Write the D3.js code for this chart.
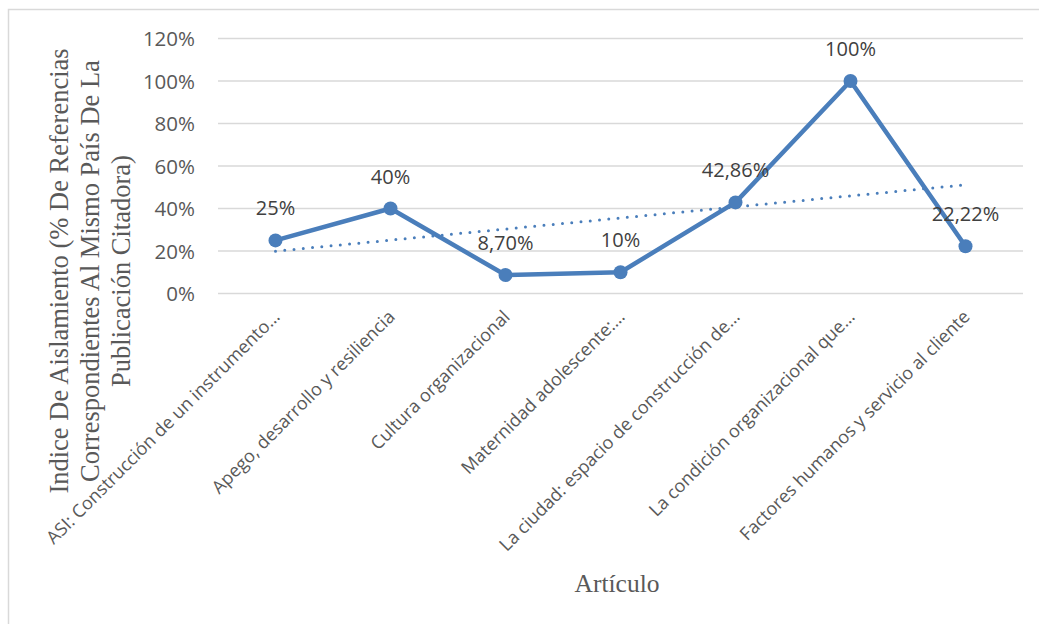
<!DOCTYPE html>
<html>
<head>
<meta charset="utf-8">
<script src="https://cdn.jsdelivr.net/npm/d3@7"></script>
<style>
  body { margin: 0; background: #fff; }
  svg { display: block; }
</style>
</head>
<body>
<div id="chart"></div>
<script>
const categories = [
    "ASI: Construcción de un instrumento…",
    "Apego, desarrollo y resiliencia",
    "Cultura organizacional",
    "Maternidad adolescente:…",
    "La ciudad: espacio de construcción de…",
    "La condición organizacional que…",
    "Factores humanos y servicio al cliente"
]
const values = [25, 40, 8.7, 10, 42.86, 100, 22.22]
const valueLabels = ["25%", "40%", "8,70%", "10%", "42,86%", "100%", "22,22%"]
const yTicks = [0, 20, 40, 60, 80, 100, 120]
const yTitleLines = [
    "Indice De Aislamiento (% De Referencias",
    "Correspondientes Al Mismo País De La",
    "Publicación Citadora)"
]
const xTitle = "Artículo"

const width = 1039, height = 624
const plot = { left: 218, right: 1023, top: 38.5, bottom: 293.5 }
const blue = "#4a7ebb"
const sans = "'Open Sans', sans-serif"
const serif = "'Liberation Serif', 'Times New Roman', serif"

const svg = d3.select("#chart").append("svg")
    .attr("width", width)
    .attr("height", height)

// chart border (runs off the right and bottom edge)
svg.append("rect")
    .attr("x", 8.5).attr("y", 9.5)
    .attr("width", 1100).attr("height", 700)
    .attr("fill", "none")
    .attr("stroke", "#d9d9d9")
    .attr("stroke-width", 1.5)

const x = d3.scaleBand()
    .domain(categories)
    .range([plot.left, plot.right])

const y = d3.scaleLinear()
    .domain([0, 120])
    .range([plot.bottom, plot.top])

// gridlines
svg.append("g")
    .selectAll("line")
    .data(yTicks)
    .enter()
    .append("line")
    .attr("x1", plot.left).attr("x2", plot.right)
    .attr("y1", d => y(d)).attr("y2", d => y(d))
    .attr("stroke", "#d9d9d9")
    .attr("stroke-width", 1.5)

// y axis tick labels
const yAxis = svg.append("g")
    .attr("transform", "translate(" + (plot.left - 20) + ",0)")
    .call(d3.axisLeft(y).tickValues(yTicks).tickSize(0).tickFormat(d => d + "%"))
yAxis.select(".domain").remove()
yAxis.selectAll("text")
    .style("font-family", sans)
    .style("font-size", "20.5px")
    .attr("fill", "#595959")
    .attr("dy", "0.35em")

// x axis tick labels, rotated
const xAxis = svg.append("g")
    .attr("transform", "translate(0," + plot.bottom + ")")
    .call(d3.axisBottom(x).tickSize(0))
xAxis.select(".domain").remove()
xAxis.selectAll("text")
    .style("font-family", sans)
    .style("font-size", "18px")
    .attr("fill", "#595959")
    .attr("text-anchor", "end")
    .attr("dy", "0.35em")
    .attr("transform", "translate(1,20) rotate(-45)")
    .attr("y", 0)

// trendline (linear least squares on the series)
const idx = values.map((v, i) => i + 1)
const mx = d3.mean(idx), my = d3.mean(values)
const slope = d3.sum(idx.map((xi, i) => (xi - mx) * (values[i] - my))) / d3.sum(idx.map(xi => (xi - mx) ** 2))
const intercept = my - slope * mx
const cx = d => x(d) + x.bandwidth() / 2

svg.append("line")
    .attr("x1", cx(categories[0]))
    .attr("y1", y(intercept + slope * 1))
    .attr("x2", cx(categories[categories.length - 1]))
    .attr("y2", y(intercept + slope * categories.length))
    .attr("stroke", blue)
    .attr("stroke-width", 3)
    .attr("stroke-linecap", "round")
    .attr("stroke-dasharray", "0 9.3")

// series line
const line = d3.line()
    .x((d, i) => cx(categories[i]))
    .y(d => y(d))

svg.append("path")
    .datum(values)
    .attr("d", line)
    .attr("fill", "none")
    .attr("stroke", blue)
    .attr("stroke-width", 4.5)
    .attr("stroke-linejoin", "round")

svg.append("g")
    .selectAll("circle")
    .data(values)
    .enter()
    .append("circle")
    .attr("cx", (d, i) => cx(categories[i]))
    .attr("cy", d => y(d))
    .attr("r", 7)
    .attr("fill", blue)

// data labels
svg.append("g")
    .selectAll("text")
    .data(values)
    .enter()
    .append("text")
    .attr("x", (d, i) => cx(categories[i]))
    .attr("y", d => y(d) - 25)
    .attr("text-anchor", "middle")
    .style("font-family", sans)
    .style("font-size", "20px")
    .attr("fill", "#404040")
    .text((d, i) => valueLabels[i])

// y axis title
const yTitle = svg.append("text")
    .attr("transform", "translate(68,271) rotate(-90)")
    .attr("text-anchor", "middle")
    .style("font-family", serif)
    .style("font-size", "26.5px")
    .attr("fill", "#595959")
yTitleLines.forEach((t, i) => {
    yTitle.append("tspan")
        .attr("x", 0)
        .attr("dy", i === 0 ? 0 : 31)
        .text(t)
})

// x axis title
svg.append("text")
    .attr("x", 617)
    .attr("y", 592)
    .attr("text-anchor", "middle")
    .style("font-family", serif)
    .style("font-size", "25.5px")
    .attr("fill", "#595959")
    .text(xTitle)
</script>
</body>
</html>
